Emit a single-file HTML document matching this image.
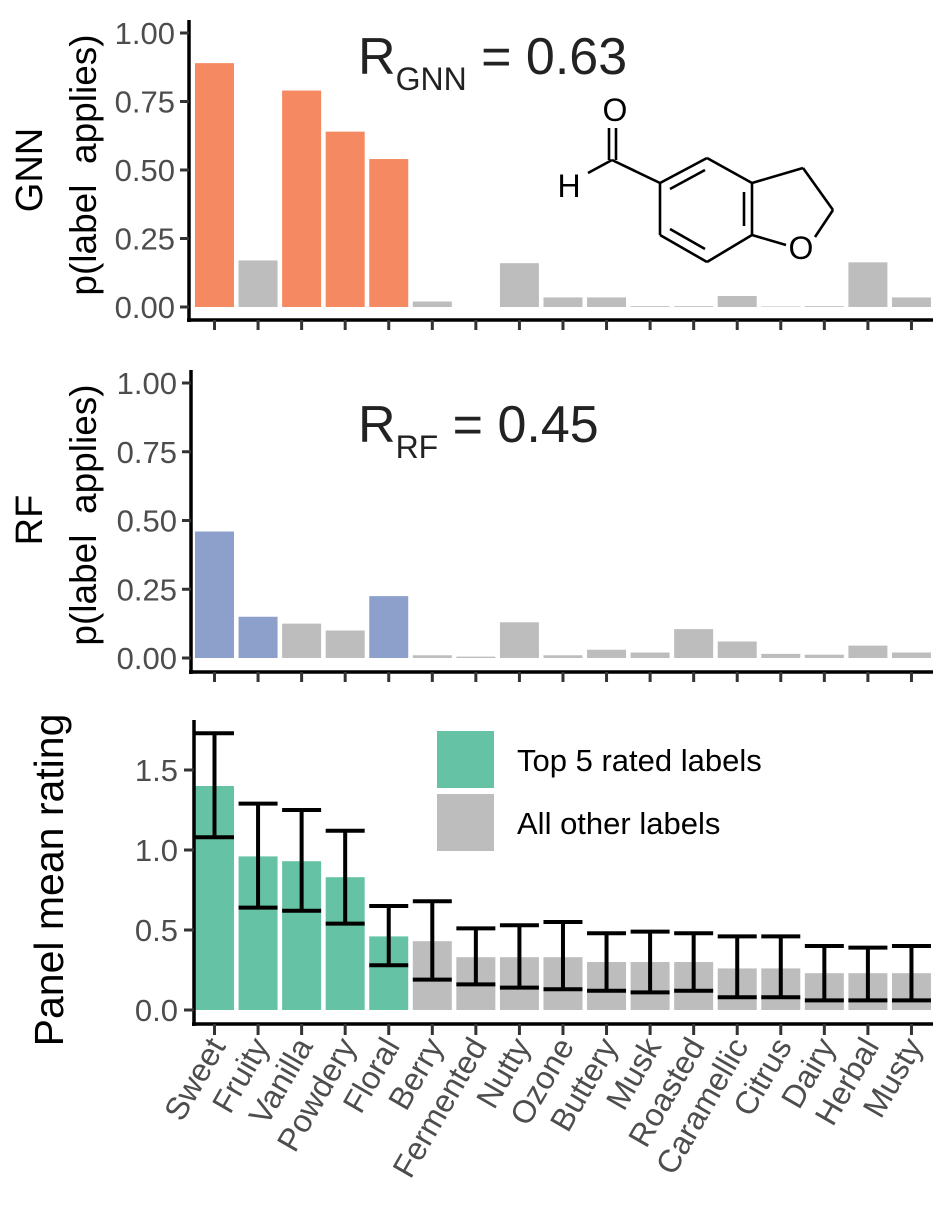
<!DOCTYPE html>
<html><head><meta charset="utf-8"><style>
html,body{margin:0;padding:0;background:#fff;}
svg text{font-family:"Liberation Sans",sans-serif;}
</style></head><body>
<svg id="s" width="933" height="1200" viewBox="0 0 933 1200" xmlns="http://www.w3.org/2000/svg"></svg>
<script>
const s=document.getElementById('s');let h='';
const names=["Sweet","Fruity","Vanilla","Powdery","Floral","Berry","Fermented","Nutty","Ozone","Buttery","Musk","Roasted","Caramellic","Citrus","Dairy","Herbal","Musty"];
const sp=43.56, c0=214.5, bw=39;
const cx=i=>c0+i*sp;
function panel(ax,top,bot,y0,y1,vals,ticks,fmt,colorF){
  const sc=(y0-y1)/1.0;
  vals.forEach((v,i)=>{const yy=y0-v*sc;h+=`<rect x="${cx(i)-bw/2}" y="${yy}" width="${bw}" height="${y0-yy}" fill="${colorF(i)}"/>`;});
  h+=`<line x1="${ax}" y1="${top}" x2="${ax}" y2="${bot+2}" stroke="#000" stroke-width="3.5"/>`;
  h+=`<line x1="${ax-2}" y1="${bot}" x2="933" y2="${bot}" stroke="#000" stroke-width="3.5"/>`;
  ticks.forEach(t=>{const yy=y0-t*sc;h+=`<line x1="${ax-9}" y1="${yy}" x2="${ax}" y2="${yy}" stroke="#333" stroke-width="3"/><text x="${ax-14}" y="${yy+11}" font-size="31" fill="#4d4d4d" text-anchor="end">${fmt(t)}</text>`;});
  names.forEach((n,i)=>{h+=`<line x1="${cx(i)}" y1="${bot}" x2="${cx(i)}" y2="${bot+10}" stroke="#333" stroke-width="3"/>`;});
}
const gnn=[.89,.17,.79,.64,.54,.02,0,.16,.035,.035,.003,.003,.04,.002,.003,.163,.035];
panel(189,20,320,307,33,gnn,[0,.25,.5,.75,1],t=>t.toFixed(2),i=>[0,2,3,4].includes(i)?'#f58a62':'#bdbdbd');
const rf=[.46,.15,.125,.10,.225,.01,.005,.13,.01,.03,.02,.105,.06,.015,.012,.045,.02];
panel(191,370,672,658,383,rf,[0,.25,.5,.75,1],t=>t.toFixed(2),i=>[0,1,4].includes(i)?'#8da0cb':'#bdbdbd');
const m=[1.40,.96,.93,.83,.46,.43,.33,.33,.33,.30,.30,.30,.26,.26,.23,.23,.23];
const lo=[1.08,.64,.62,.54,.28,.19,.16,.14,.13,.12,.11,.12,.08,.08,.06,.06,.06];
const hi=[1.73,1.29,1.25,1.12,.65,.68,.51,.53,.55,.48,.49,.48,.46,.46,.40,.39,.40];
const y0=1010,sc=160;
m.forEach((v,i)=>{const yy=y0-v*sc;h+=`<rect x="${cx(i)-bw/2}" y="${yy}" width="${bw}" height="${y0-yy}" fill="${i<5?'#66c2a5':'#bdbdbd'}"/>`;});
m.forEach((v,i)=>{const a=y0-lo[i]*sc,b=y0-hi[i]*sc,x=cx(i);
 h+=`<line x1="${x}" y1="${a}" x2="${x}" y2="${b}" stroke="#000" stroke-width="4"/><line x1="${x-bw/2}" y1="${a}" x2="${x+bw/2}" y2="${a}" stroke="#000" stroke-width="4"/><line x1="${x-bw/2}" y1="${b}" x2="${x+bw/2}" y2="${b}" stroke="#000" stroke-width="4"/>`;});
h+=`<line x1="194" y1="720" x2="194" y2="1026" stroke="#000" stroke-width="3.5"/><line x1="192" y1="1024" x2="933" y2="1024" stroke="#000" stroke-width="3.5"/>`;
[0,.5,1,1.5].forEach(t=>{const yy=y0-t*sc;h+=`<line x1="184" y1="${yy}" x2="194" y2="${yy}" stroke="#333" stroke-width="3"/><text x="178" y="${yy+11}" font-size="31" fill="#4d4d4d" text-anchor="end">${t.toFixed(1)}</text>`;});
names.forEach((n,i)=>{const x=cx(i);h+=`<line x1="${x}" y1="1024" x2="${x}" y2="1035" stroke="#333" stroke-width="3"/><text transform="translate(${x+12},1046) rotate(-60)" font-size="32" fill="#4d4d4d" text-anchor="end">${n}</text>`;});
h+=`<rect x="437" y="731" width="57" height="57" fill="#66c2a5"/><rect x="437" y="794" width="57" height="57" fill="#bdbdbd"/>`;
h+=`<text x="517" y="771" font-size="31" fill="#000">Top 5 rated labels</text><text x="517" y="834" font-size="31" fill="#000">All other labels</text>`;
h+=`<text transform="translate(42,170) rotate(-90)" font-size="38" text-anchor="middle" fill="#000">GNN</text>`;
h+=`<text transform="translate(96,165) rotate(-90)" font-size="37" text-anchor="middle" fill="#000" xml:space="preserve">p(label  applies)</text>`;
h+=`<text transform="translate(42,520) rotate(-90)" font-size="38" text-anchor="middle" fill="#000">RF</text>`;
h+=`<text transform="translate(96,515) rotate(-90)" font-size="37" text-anchor="middle" fill="#000" xml:space="preserve">p(label  applies)</text>`;
h+=`<text transform="translate(63,880) rotate(-90)" font-size="41" text-anchor="middle" fill="#000">Panel mean rating</text>`;
h+=`<text x="358" y="74" font-size="52" fill="#222">R<tspan font-size="32" dy="16">GNN</tspan><tspan dy="-16" font-size="52"> = 0.63</tspan></text>`;
h+=`<text x="358" y="442" font-size="52" fill="#222">R<tspan font-size="32" dy="16">RF</tspan><tspan dy="-16" font-size="52"> = 0.45</tspan></text>`;
const L=(a,b,c,d)=>`<line x1="${a}" y1="${b}" x2="${c}" y2="${d}" stroke="#000" stroke-width="2.6"/>`;
h+=L(609,128,609,160)+L(616,128,616,160)+L(612,160,588,173)+L(612,160,660,183);
h+=L(660,183,707,158)+L(707,158,752,183)+L(752,183,752,235)+L(752,235,707,262)+L(707,262,660,235)+L(660,235,660,183);
h+=L(670,189,705,170)+L(744,192,744,226)+L(670,229,705,249);
h+=L(752,183,803,168)+L(803,168,833,210)+L(833,210,815,237)+L(752,235,786,245);
h+=`<text x="615" y="121" font-size="32" text-anchor="middle" fill="#000">O</text><text x="569" y="197" font-size="32" text-anchor="middle" fill="#000">H</text><text x="801" y="259" font-size="32" text-anchor="middle" fill="#000">O</text>`;
s.innerHTML=h;
</script>
</body></html>
